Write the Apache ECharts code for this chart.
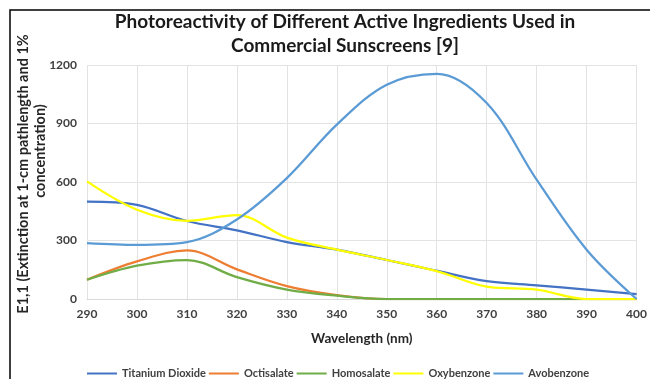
<!DOCTYPE html>
<html>
<head>
<meta charset="utf-8">
<script src="https://cdn.jsdelivr.net/npm/echarts@6/dist/echarts.min.js"></script>
<style>
html,body{margin:0;padding:0;background:#fff;}
#chart{width:650px;height:379px;}
</style>
</head>
<body>
<div id="chart"></div>
<script>
var wavelengths = [290, 300, 310, 320, 330, 340, 350, 360, 370, 380, 390, 400];
var titaniumDioxide = [500, 483, 400, 352, 292, 253, 200, 145, 92, 70, 48, 25];
var octisalate = [99, 193, 249, 152, 66, 20, 0, 0, 0, 0, 0, 0];
var homosalate = [99, 171, 200, 112, 48, 17, 0, 0, 0, 0, 0, 0];
var oxybenzone = [603, 458, 401, 430, 315, 253, 200, 143, 63, 48, 0, 0];
var avobenzone = [287, 278, 292, 408, 620, 894, 1099, 1155, 1005, 612, 253, 0];
var seriesNames = ['Titanium Dioxide', 'Octisalate', 'Homosalate', 'Oxybenzone', 'Avobenzone'];
var seriesValues = [titaniumDioxide, octisalate, homosalate, oxybenzone, avobenzone];
var colors = ['#4472C4', '#ED7D31', '#70AD47', '#FFFF00', '#5B9BD5'];

var FONT = 'Lato, "Open Sans", sans-serif';
var chart = echarts.init(document.getElementById('chart'), null, {renderer: 'canvas'});

var series = seriesNames.map(function (name, i) {
  return {
    name: name,
    type: 'line',
    smooth: 0.35,
    showSymbol: false,
    symbol: 'none',
    lineStyle: {width: 2.25, color: colors[i]},
    itemStyle: {color: colors[i]},
    data: wavelengths.map(function (w, j) { return [w, seriesValues[i][j]]; })
  };
});

chart.setOption({
  animation: false,
  backgroundColor: '#fff',
  textStyle: {fontFamily: FONT},
  title: {
    text: 'Photoreactivity of Different Active Ingredients Used in\nCommercial Sunscreens [9]',
    left: 340,
    textAlign: 'center',
    top: 5,
    textStyle: {fontFamily: FONT, fontSize: 19, fontWeight: 'bold', color: '#1a1a1a', lineHeight: 24}
  },
  graphic: [{
    type: 'rect',
    shape: {x: 10, y: 10, width: 700, height: 420},
    style: {fill: 'none', stroke: '#000', lineWidth: 1.5},
    silent: true
  }],
  grid: {left: 87, right: 10, top: 65, bottom: 80},
  legend: {
    top: 368,
    left: 87,
    padding: 0,
    icon: 'rect',
    itemWidth: 30,
    itemHeight: 2,
    itemGap: 3,
    textStyle: {fontFamily: FONT, fontSize: 11, fontWeight: 'bold', color: '#404040'},
    data: seriesNames
  },
  xAxis: {
    type: 'value',
    min: 290,
    max: 400,
    interval: 10,
    name: 'Wavelength (nm)',
    nameLocation: 'middle',
    nameGap: 33,
    nameTextStyle: {fontFamily: FONT, fontSize: 13.5, fontWeight: 'bold', color: '#262626'},
    axisLine: {show: true, lineStyle: {color: '#d9d9d9', width: 1}},
    axisTick: {show: false},
    axisLabel: {fontFamily: FONT, fontSize: 12, fontWeight: 'bold', color: '#404040', margin: 9},
    splitLine: {show: true, lineStyle: {color: '#e3e3e3', width: 1}}
  },
  yAxis: {
    type: 'value',
    min: 0,
    max: 1200,
    interval: 300,
    name: '{a|E1,1 (Extinction at 1-cm pathlength and 1%}\n{b|concentration)}',
    nameLocation: 'middle',
    nameGap: 38,
    nameMoveOverlap: false,
    nameTextStyle: {
      fontFamily: FONT, fontSize: 14.5, fontWeight: 'bold', color: '#262626', lineHeight: 17,
      rich: {
        a: {fontFamily: FONT, fontSize: 14.5, fontWeight: 'bold', color: '#262626', lineHeight: 17, padding: [0, 0, 0, 16]},
        b: {fontFamily: FONT, fontSize: 14.5, fontWeight: 'bold', color: '#262626', lineHeight: 17, padding: [0, 0, 0, 62]}
      }
    },
    axisLine: {show: false},
    axisTick: {show: false},
    axisLabel: {fontFamily: FONT, fontSize: 12, fontWeight: 'bold', color: '#404040', margin: 10, formatter: function (v) { return String(v); }},
    splitLine: {show: true, lineStyle: {color: '#e3e3e3', width: 1}}
  },
  series: series
});
</script>
</body>
</html>
